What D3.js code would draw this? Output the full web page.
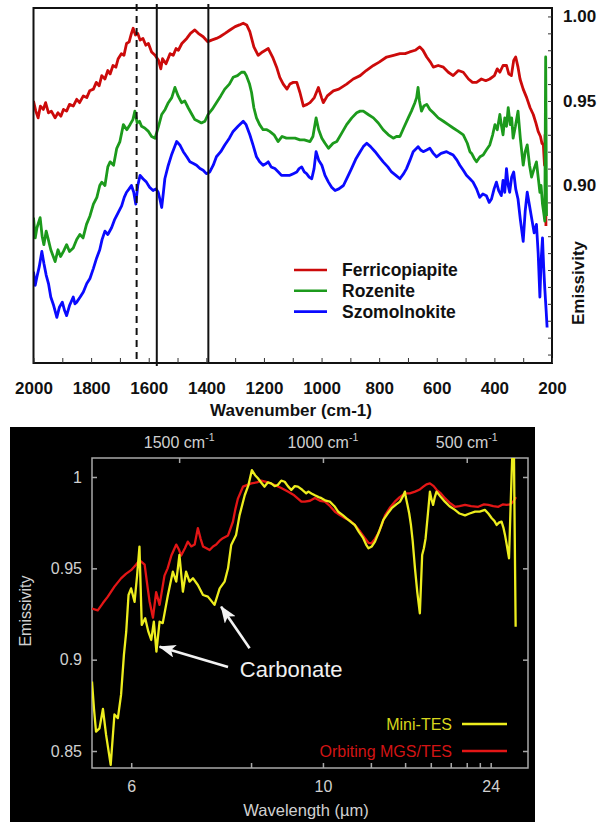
<!DOCTYPE html>
<html>
<head>
<meta charset="utf-8">
<script src="https://cdnjs.cloudflare.com/ajax/libs/d3/7.8.5/d3.min.js"></script>
<style>
  body { margin: 0; background: #fff; }
  svg { display: block; }
</style>
</head>
<body>
<svg id="chart" width="603" height="822"></svg>
<script>
// ---------- data: top panel (wavenumber cm-1, emissivity) ----------
const ferricopiapite = [[2000,0.950],[1992,0.944],[1984,0.940],[1976,0.947],[1966,0.945],[1958,0.949],[1948,0.943],[1938,0.944],[1925,0.940],[1915,0.943],[1905,0.941],[1896,0.945],[1885,0.944],[1875,0.948],[1862,0.947],[1850,0.951],[1840,0.949],[1827,0.953],[1815,0.952],[1805,0.956],[1792,0.957],[1782,0.961],[1772,0.959],[1763,0.965],[1752,0.963],[1742,0.968],[1734,0.966],[1724,0.971],[1714,0.970],[1706,0.975],[1695,0.978],[1686,0.977],[1677,0.984],[1668,0.985],[1660,0.990],[1654,0.993],[1646,0.989],[1638,0.990],[1630,0.986],[1620,0.987],[1610,0.983],[1601,0.984],[1590,0.979],[1578,0.977],[1566,0.974],[1558,0.969],[1552,0.975],[1540,0.972],[1526,0.978],[1515,0.977],[1505,0.981],[1497,0.980],[1485,0.984],[1468,0.987],[1455,0.990],[1440,0.992],[1428,0.990],[1411,0.988],[1395,0.985],[1382,0.986],[1365,0.987],[1353,0.988],[1335,0.990],[1318,0.992],[1300,0.994],[1285,0.995],[1272,0.996],[1260,0.995],[1249,0.991],[1235,0.982],[1220,0.977],[1205,0.979],[1185,0.981],[1170,0.976],[1156,0.970],[1145,0.964],[1133,0.960],[1120,0.957],[1110,0.960],[1098,0.961],[1086,0.961],[1075,0.955],[1063,0.947],[1050,0.948],[1040,0.949],[1025,0.952],[1011,0.958],[1000,0.952],[994,0.949],[980,0.953],[959,0.956],[940,0.957],[913,0.960],[890,0.963],[866,0.965],[845,0.968],[820,0.971],[800,0.973],[774,0.976],[750,0.977],[728,0.978],[710,0.978],[694,0.979],[675,0.980],[659,0.982],[648,0.980],[635,0.976],[622,0.973],[612,0.970],[595,0.971],[577,0.970],[560,0.967],[543,0.965],[525,0.968],[508,0.967],[490,0.963],[476,0.961],[462,0.961],[445,0.963],[430,0.962],[416,0.963],[400,0.965],[390,0.969],[381,0.967],[370,0.971],[358,0.971],[350,0.966],[341,0.965],[333,0.974],[326,0.976],[318,0.970],[311,0.963],[300,0.957],[288,0.952],[276,0.946],[265,0.942],[256,0.937],[248,0.932],[240,0.929],[235,0.925],[230,0.924],[226,0.912],[224,0.930],[221,0.876]];

const rozenite = [[2000,0.881],[1994,0.869],[1988,0.875],[1977,0.881],[1970,0.870],[1964,0.865],[1956,0.873],[1950,0.869],[1940,0.862],[1925,0.855],[1915,0.862],[1906,0.858],[1896,0.861],[1885,0.865],[1875,0.861],[1862,0.863],[1850,0.868],[1839,0.871],[1828,0.869],[1816,0.877],[1804,0.882],[1792,0.889],[1780,0.893],[1770,0.900],[1763,0.902],[1752,0.900],[1742,0.911],[1734,0.914],[1722,0.912],[1711,0.922],[1700,0.926],[1688,0.936],[1676,0.933],[1665,0.936],[1655,0.939],[1648,0.944],[1640,0.937],[1632,0.938],[1625,0.935],[1614,0.934],[1601,0.932],[1590,0.929],[1578,0.928],[1566,0.935],[1555,0.942],[1543,0.945],[1532,0.949],[1520,0.952],[1509,0.958],[1498,0.953],[1486,0.949],[1475,0.950],[1463,0.946],[1450,0.942],[1440,0.939],[1428,0.938],[1417,0.937],[1405,0.938],[1394,0.942],[1380,0.945],[1365,0.949],[1350,0.953],[1336,0.957],[1320,0.960],[1307,0.964],[1292,0.965],[1278,0.967],[1268,0.967],[1261,0.965],[1250,0.960],[1243,0.955],[1235,0.946],[1226,0.940],[1215,0.936],[1203,0.933],[1190,0.933],[1180,0.932],[1165,0.930],[1151,0.926],[1137,0.929],[1122,0.928],[1110,0.928],[1092,0.928],[1075,0.927],[1060,0.927],[1040,0.926],[1030,0.929],[1019,0.940],[1010,0.933],[999,0.928],[988,0.925],[976,0.922],[960,0.925],[947,0.926],[930,0.931],[913,0.936],[895,0.940],[878,0.943],[866,0.944],[855,0.944],[838,0.942],[820,0.940],[803,0.937],[786,0.933],[768,0.930],[751,0.928],[740,0.929],[728,0.929],[715,0.934],[699,0.940],[688,0.944],[676,0.949],[670,0.952],[665,0.958],[660,0.950],[653,0.944],[645,0.947],[635,0.948],[624,0.945],[612,0.943],[595,0.940],[577,0.938],[560,0.936],[543,0.934],[525,0.932],[508,0.930],[494,0.925],[485,0.920],[479,0.919],[470,0.916],[462,0.914],[450,0.917],[439,0.918],[428,0.921],[416,0.924],[406,0.930],[398,0.936],[390,0.933],[381,0.942],[376,0.936],[370,0.930],[364,0.940],[358,0.935],[352,0.946],[345,0.936],[340,0.940],[335,0.928],[327,0.935],[318,0.944],[310,0.928],[300,0.912],[293,0.920],[286,0.924],[278,0.912],[271,0.905],[262,0.910],[254,0.914],[248,0.905],[242,0.896],[238,0.900],[233,0.889],[228,0.883],[225,0.879],[222,0.976],[219,0.882]];

const szomolnokite = [[2000,0.849],[1994,0.841],[1988,0.846],[1980,0.852],[1971,0.861],[1964,0.854],[1956,0.847],[1948,0.842],[1940,0.834],[1930,0.829],[1919,0.822],[1910,0.828],[1900,0.831],[1892,0.826],[1885,0.823],[1875,0.829],[1862,0.834],[1856,0.830],[1850,0.831],[1838,0.834],[1827,0.837],[1815,0.842],[1804,0.845],[1792,0.851],[1781,0.857],[1770,0.862],[1762,0.868],[1752,0.873],[1742,0.871],[1729,0.875],[1718,0.880],[1706,0.884],[1694,0.888],[1685,0.893],[1677,0.896],[1668,0.898],[1660,0.900],[1652,0.896],[1645,0.889],[1638,0.900],[1630,0.906],[1620,0.904],[1608,0.902],[1597,0.899],[1585,0.897],[1575,0.898],[1567,0.896],[1560,0.891],[1555,0.887],[1549,0.896],[1544,0.904],[1532,0.912],[1521,0.918],[1512,0.922],[1503,0.926],[1492,0.924],[1480,0.920],[1468,0.917],[1457,0.914],[1445,0.913],[1434,0.912],[1422,0.910],[1411,0.909],[1400,0.907],[1388,0.908],[1376,0.912],[1365,0.917],[1350,0.920],[1336,0.924],[1320,0.928],[1307,0.932],[1290,0.935],[1272,0.938],[1262,0.936],[1249,0.930],[1238,0.924],[1226,0.917],[1215,0.914],[1203,0.912],[1192,0.913],[1185,0.914],[1175,0.911],[1162,0.910],[1150,0.908],[1139,0.906],[1125,0.906],[1110,0.906],[1098,0.907],[1086,0.908],[1078,0.910],[1069,0.911],[1060,0.908],[1052,0.907],[1043,0.905],[1034,0.904],[1026,0.910],[1019,0.920],[1010,0.915],[999,0.912],[988,0.906],[976,0.902],[965,0.899],[953,0.897],[940,0.898],[924,0.900],[910,0.905],[896,0.910],[880,0.916],[866,0.920],[855,0.923],[843,0.925],[830,0.923],[814,0.920],[800,0.917],[786,0.914],[770,0.911],[757,0.908],[742,0.906],[728,0.904],[715,0.907],[705,0.910],[693,0.915],[682,0.920],[670,0.922],[665,0.923],[656,0.921],[647,0.920],[635,0.921],[624,0.922],[612,0.919],[601,0.917],[585,0.919],[566,0.920],[555,0.919],[543,0.918],[530,0.915],[520,0.912],[508,0.909],[497,0.906],[485,0.904],[474,0.902],[462,0.898],[451,0.893],[440,0.895],[428,0.894],[418,0.890],[410,0.892],[401,0.898],[393,0.902],[385,0.897],[376,0.894],[370,0.903],[364,0.896],[358,0.910],[352,0.900],[347,0.896],[340,0.905],[333,0.908],[326,0.898],[318,0.892],[310,0.880],[300,0.867],[293,0.885],[286,0.896],[278,0.888],[271,0.881],[262,0.872],[254,0.877],[248,0.860],[242,0.834],[238,0.855],[233,0.869],[229,0.852],[225,0.839],[220,0.825],[217,0.816]];

const topNames = ["Ferricopiapite", "Rozenite", "Szomolnokite"];
const topColors = ["#cc0a0a", "#1c9a1c", "#0a0aff"];
const topXTicks = d3.range(2000, 199, -100);
const topXLabels = [2000, 1800, 1600, 1400, 1200, 1000, 800, 600, 400, 200];
const topYTicks = d3.range(80, 101).map(d => d / 100);
const topYLabels = [0.90, 0.95, 1.00];
const bandLines = [1642, 1572, 1393];   // dashed first, then solid
const bandDashed = [true, false, false];

// ---------- data: bottom panel (wavenumber cm-1, emissivity) ----------
const miniTES = [[1803,0.888],[1796,0.873],[1789,0.8606],[1777,0.8624],[1765,0.873],[1754,0.8588],[1738,0.8424],[1725,0.870],[1713,0.868],[1702,0.8807],[1692,0.9026],[1684,0.9153],[1676,0.9354],[1667,0.939],[1655,0.9317],[1646,0.9464],[1638,0.9619],[1630,0.919],[1618,0.9227],[1607,0.9153],[1597,0.9108],[1588,0.9208],[1579,0.9044],[1568,0.9208],[1557,0.920],[1539,0.9354],[1522,0.9482],[1510,0.9427],[1499,0.9573],[1487,0.9372],[1476,0.9482],[1464,0.9427],[1452,0.9446],[1435,0.9409],[1417,0.9354],[1400,0.9345],[1377,0.930],[1359,0.939],[1342,0.9427],[1330,0.950],[1319,0.9628],[1302,0.9683],[1290,0.979],[1272,0.990],[1259,0.9956],[1247,1.0038],[1236,1.001],[1226,0.9993],[1215,0.997],[1203,0.9947],[1192,0.997],[1180,0.9965],[1168,0.995],[1157,0.9956],[1145,0.998],[1133,0.9974],[1122,0.995],[1110,0.9929],[1098,0.995],[1087,0.9947],[1072,0.993],[1058,0.9911],[1051,0.992],[1040,0.991],[1028,0.990],[1015,0.989],[1005,0.9884],[990,0.987],[976,0.9865],[960,0.984],[947,0.981],[930,0.979],[918,0.9774],[900,0.975],[889,0.9737],[875,0.970],[860,0.9665],[850,0.963],[842,0.961],[830,0.962],[819,0.9646],[805,0.970],[790,0.9765],[775,0.980],[761,0.9829],[745,0.985],[732,0.9865],[720,0.990],[715,0.992],[712,0.989],[706,0.9847],[700,0.980],[694,0.9737],[688,0.965],[680,0.950],[672,0.937],[663,0.9254],[655,0.9573],[649,0.961],[643,0.9665],[635,0.980],[628,0.992],[623,0.988],[617,0.9847],[611,0.989],[605,0.992],[590,0.989],[576,0.9865],[560,0.984],[541,0.982],[525,0.980],[506,0.979],[490,0.980],[471,0.981],[455,0.981],[437,0.982],[425,0.980],[413,0.9774],[404,0.976],[396,0.9737],[388,0.975],[379,0.9756],[372,0.972],[367,0.9683],[360,0.962],[353,0.9555],[347,0.9865],[341,1.0150],[336,1.0150],[330,0.918]];

const mgsTES = [[1803,0.928],[1783,0.927],[1765,0.931],[1748,0.9345],[1725,0.940],[1702,0.9445],[1685,0.947],[1667,0.949],[1650,0.952],[1638,0.9545],[1620,0.952],[1610,0.940],[1603,0.932],[1591,0.923],[1580,0.937],[1568,0.930],[1551,0.946],[1540,0.950],[1527,0.957],[1510,0.963],[1500,0.960],[1493,0.957],[1480,0.961],[1470,0.9646],[1458,0.962],[1446,0.963],[1435,0.972],[1425,0.966],[1417,0.962],[1405,0.961],[1394,0.960],[1382,0.962],[1371,0.963],[1360,0.965],[1348,0.9665],[1330,0.968],[1313,0.9755],[1305,0.982],[1296,0.988],[1278,0.9947],[1249,0.9965],[1230,0.997],[1215,0.998],[1190,0.997],[1168,0.9956],[1145,0.994],[1122,0.992],[1100,0.990],[1075,0.9865],[1063,0.9865],[1045,0.987],[1028,0.9885],[1010,0.987],[993,0.9865],[975,0.984],[958,0.981],[940,0.979],[923,0.9774],[905,0.976],[889,0.9737],[870,0.970],[854,0.9665],[842,0.964],[831,0.9637],[820,0.966],[808,0.969],[795,0.974],[784,0.979],[768,0.983],[750,0.9865],[733,0.989],[715,0.991],[698,0.991],[680,0.992],[665,0.993],[651,0.9947],[640,0.996],[628,0.9965],[615,0.995],[605,0.993],[590,0.991],[576,0.9884],[560,0.986],[541,0.9837],[525,0.984],[506,0.9847],[485,0.984],[460,0.9837],[440,0.985],[425,0.9847],[408,0.984],[390,0.9837],[375,0.985],[361,0.9847],[350,0.985],[344,0.9856],[336,0.987],[329,0.989]];

const botNames = ["Mini-TES", "Orbiting MGS/TES"];
const botColors = ["#eded1e", "#e31616"];
const botTextColors = ["#d6d61c", "#d21414"];
const botYTicks = [0.85, 0.9, 0.95, 1];
const wavenumberTicks = [1500, 1000, 500];
const wavelengthTicks = [6, 8, 10, 12, 14, 16, 18, 20, 22, 24]; // µm
const wavelengthLabels = [6, 10, 24];
// arrows: [tail wn, tail e, tip wn, tip e]
const carbonateArrows = [[1330, 0.896, 1568, 0.9071], [1255, 0.9062, 1354, 0.929]];
const carbonateText = [1289, 0.8905];

const svg = d3.select("#chart");
const font = '"Liberation Sans", Arial, Helvetica, sans-serif';

// =================== TOP PANEL ===================
const tx = d3.scaleLinear().domain([2000, 200]).range([33.5, 552]);
const ty = d3.scaleLinear().domain([0.795, 1.005]).range([363, 8]);
const tLine = d3.line().x(d => tx(d[0])).y(d => ty(d[1]));

svg.append("clipPath").attr("id", "clipTop").append("rect")
  .attr("x", tx(2000)).attr("y", ty(1.005))
  .attr("width", tx(200) - tx(2000)).attr("height", ty(0.795) - ty(1.005));

const topG = svg.append("g");

[ferricopiapite, rozenite, szomolnokite].forEach((s, i) => {
  topG.append("path").datum(s)
    .attr("clip-path", "url(#clipTop)")
    .attr("fill", "none")
    .attr("stroke", topColors[i])
    .attr("stroke-width", 2.8)
    .attr("stroke-linejoin", "round")
    .attr("d", tLine);
});

// band markers
bandLines.forEach((b, i) => {
  topG.append("line")
    .attr("x1", tx(b)).attr("x2", tx(b))
    .attr("y1", 4).attr("y2", ty(0.795) + (i == 1 ? 3 : 0))
    .attr("stroke", "#111")
    .attr("stroke-width", 2)
    .attr("stroke-dasharray", bandDashed[i] ? "7,5" : null);
});

// frame
topG.append("rect")
  .attr("x", tx(2000)).attr("y", ty(1.005))
  .attr("width", tx(200) - tx(2000)).attr("height", ty(0.795) - ty(1.005))
  .attr("fill", "none").attr("stroke", "#111").attr("stroke-width", 2);

// x axis
const txAxis = topG.append("g")
  .attr("transform", "translate(0," + ty(0.795) + ")")
  .call(d3.axisBottom(tx).tickValues(topXTicks).tickSize(-5).tickPadding(19)
    .tickFormat(d => topXLabels.includes(d) ? d : ""));
txAxis.select(".domain").remove();
txAxis.selectAll("line").attr("stroke", "#333").attr("stroke-width", 1);
txAxis.selectAll("text").attr("font-family", font).attr("font-weight", "bold")
  .attr("font-size", 17).attr("fill", "#111");

// right y axis
const tyAxis = topG.append("g")
  .attr("transform", "translate(" + tx(200) + ",0)")
  .call(d3.axisRight(ty).tickValues(topYTicks).tickSize(-4).tickPadding(11)
    .tickFormat(d => topYLabels.some(v => Math.abs(v - d) < 1e-6) ? d3.format(".2f")(d) : ""));
tyAxis.select(".domain").remove();
tyAxis.selectAll("line").attr("stroke", "#333").attr("stroke-width", 1);
tyAxis.selectAll("text").attr("font-family", font).attr("font-weight", "bold")
  .attr("font-size", 17).attr("fill", "#111");

topG.append("text")
  .attr("transform", "translate(584,283) rotate(-90)")
  .attr("text-anchor", "middle")
  .attr("font-family", font).attr("font-weight", "bold").attr("font-size", 17)
  .attr("fill", "#111")
  .text("Emissivity");

topG.append("text")
  .attr("x", 291).attr("y", 416)
  .attr("text-anchor", "middle")
  .attr("font-family", font).attr("font-weight", "bold").attr("font-size", 17)
  .attr("fill", "#111")
  .text("Wavenumber (cm-1)");

// legend
const topLeg = topG.append("g").attr("transform", "translate(294,270)");
topNames.forEach((n, i) => {
  const row = topLeg.append("g").attr("transform", "translate(0," + (i * 20.8) + ")");
  row.append("line").attr("x1", 0).attr("x2", 33).attr("y1", 0).attr("y2", 0)
    .attr("stroke", topColors[i]).attr("stroke-width", 2.6);
  row.append("text").attr("x", 48).attr("y", 0).attr("dy", "0.36em")
    .attr("font-family", font).attr("font-weight", "bold").attr("font-size", 17.5)
    .attr("fill", "#111").text(n);
});

// =================== BOTTOM PANEL ===================
const bx = d3.scaleLinear().domain([1803, 287]).range([92, 528]);
const by = d3.scaleLinear().domain([0.8407, 1.0104]).range([768, 458]);
const bLine = d3.line().x(d => bx(d[0])).y(d => by(d[1]));

const botG = svg.append("g");
botG.append("rect").attr("x", 10).attr("y", 427).attr("width", 525).attr("height", 395)
  .attr("fill", "#000");

svg.append("clipPath").attr("id", "clipBot").append("rect")
  .attr("x", bx(1803)).attr("y", by(1.0104))
  .attr("width", bx(287) - bx(1803)).attr("height", by(0.8407) - by(1.0104));

const grey = "#a8a8a8";
const textGrey = "#d0d0d0";

botG.append("rect")
  .attr("x", bx(1803)).attr("y", by(1.0104))
  .attr("width", bx(287) - bx(1803)).attr("height", by(0.8407) - by(1.0104))
  .attr("fill", "none").attr("stroke", grey).attr("stroke-width", 1.5);

function styleAxis(g) {
  g.select(".domain").remove();
  g.selectAll("line").attr("stroke", grey).attr("stroke-width", 1.5);
  g.selectAll("text").attr("font-family", font).attr("font-size", 16).attr("fill", textGrey);
}

// left
botG.append("g").attr("transform", "translate(" + bx(1803) + ",0)")
  .call(d3.axisLeft(by).tickValues(botYTicks).tickSize(-5).tickPadding(10)
    .tickFormat(d3.format("")))
  .call(styleAxis);
// right
botG.append("g").attr("transform", "translate(" + bx(287) + ",0)")
  .call(d3.axisRight(by).tickValues(botYTicks).tickSize(-5).tickFormat(""))
  .call(styleAxis);
// bottom (wavelength)
botG.append("g").attr("transform", "translate(0," + by(0.8407) + ")")
  .call(d3.axisBottom(bx).tickValues(wavelengthTicks.map(l => 1e4 / l)).tickSize(-5).tickPadding(13)
    .tickFormat(w => {
      const l = Math.round(1e4 / w);
      return wavelengthLabels.includes(l) ? l : "";
    }))
  .call(styleAxis);
// top (wavenumber)
botG.append("g").attr("transform", "translate(0," + by(1.0104) + ")")
  .call(d3.axisTop(bx).tickValues(wavenumberTicks).tickSize(-5).tickFormat(""))
  .call(styleAxis);
wavenumberTicks.forEach(w => {
  const t = botG.append("text")
    .attr("x", bx(w)).attr("y", 448)
    .attr("text-anchor", "middle")
    .attr("font-family", font).attr("font-size", 16).attr("fill", textGrey);
  t.append("tspan").text(w + " cm");
  t.append("tspan").attr("dy", -7).attr("font-size", 10.5).text("-1");
});

botG.append("text")
  .attr("transform", "translate(31,611) rotate(-90)")
  .attr("text-anchor", "middle")
  .attr("font-family", font).attr("font-size", 16).attr("fill", textGrey)
  .text("Emissivity");

botG.append("text")
  .attr("x", 306).attr("y", 816)
  .attr("text-anchor", "middle")
  .attr("font-family", font).attr("font-size", 16.5).attr("fill", textGrey)
  .text("Wavelength (\u00b5m)");

// spectra (red first so yellow sits on top)
[mgsTES, miniTES].forEach((s, i) => {
  botG.append("path").datum(s)
    .attr("clip-path", "url(#clipBot)")
    .attr("fill", "none")
    .attr("stroke", botColors[1 - i])
    .attr("stroke-width", 2.3)
    .attr("stroke-linejoin", "round")
    .attr("d", bLine);
});

// legend
const botLeg = botG.append("g");
botNames.forEach((n, i) => {
  const y = 724 + i * 27;
  botLeg.append("text").attr("x", 452).attr("y", y).attr("dy", "0.36em")
    .attr("text-anchor", "end")
    .attr("font-family", font).attr("font-size", 16).attr("fill", botTextColors[i])
    .text(n);
  botLeg.append("line").attr("x1", 462).attr("x2", 507).attr("y1", y).attr("y2", y)
    .attr("stroke", botColors[i]).attr("stroke-width", 2.4);
});

// carbonate annotation
const defs = svg.append("defs");
defs.append("marker").attr("id", "arrowHead")
  .attr("markerUnits", "userSpaceOnUse")
  .attr("markerWidth", 17).attr("markerHeight", 13)
  .attr("refX", 16).attr("refY", 6.5).attr("orient", "auto")
  .append("path").attr("d", "M0,0 L17,6.5 L0,13 L4,6.5 Z").attr("fill", "#f2f2f2");

carbonateArrows.forEach(a => {
  botG.append("line")
    .attr("x1", bx(a[0])).attr("y1", by(a[1]))
    .attr("x2", bx(a[2])).attr("y2", by(a[3]))
    .attr("stroke", "#f2f2f2").attr("stroke-width", 2.6)
    .attr("marker-end", "url(#arrowHead)");
});
botG.append("text")
  .attr("x", bx(carbonateText[0])).attr("y", by(carbonateText[1]))
  .attr("font-family", font).attr("font-size", 22).attr("fill", "#f0f0f0")
  .text("Carbonate");
</script>
</body>
</html>
